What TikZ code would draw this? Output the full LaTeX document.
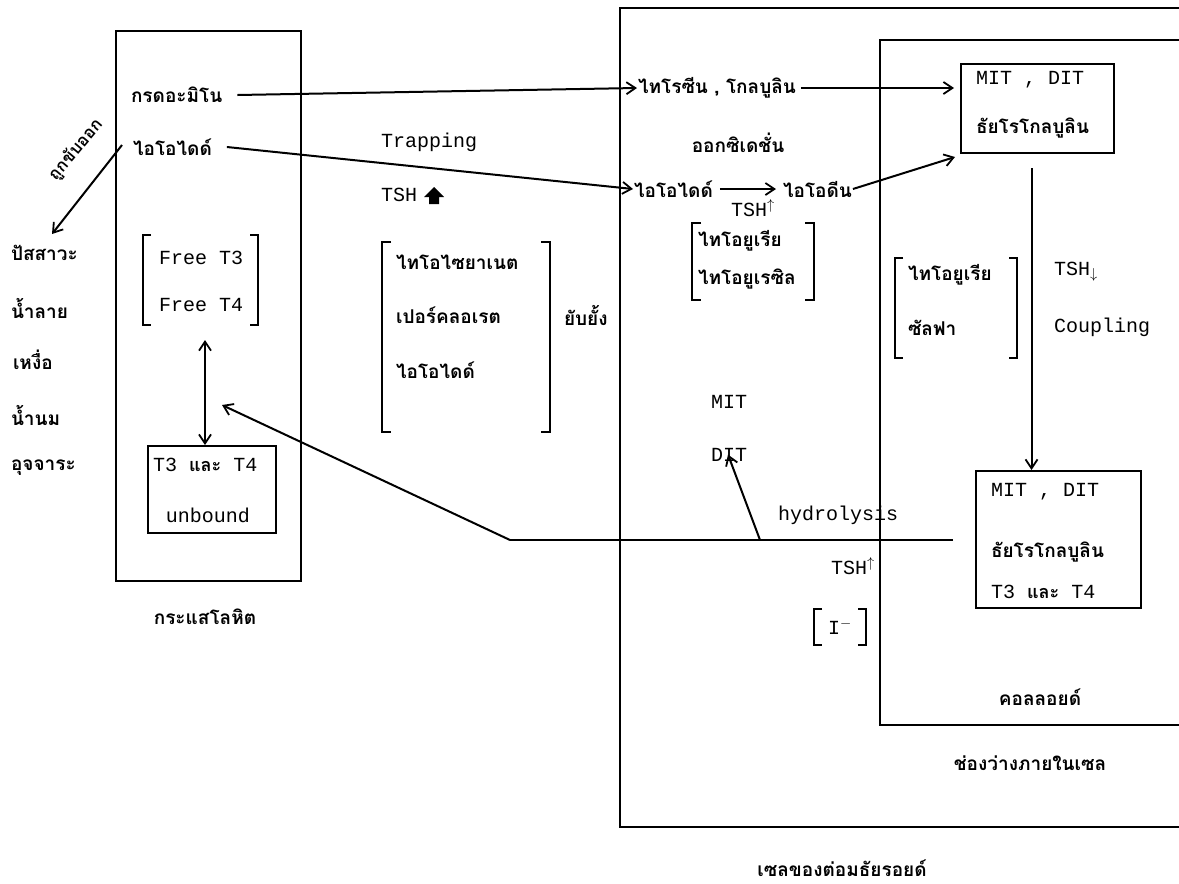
\documentclass[tikz,border=0pt]{standalone}
\usepackage{fontspec}
\setmonofont{Liberation Mono}
\newfontfamily\thai[Script=Thai]{Loma}
\usetikzlibrary{arrows.meta}
\begin{document}
\begin{tikzpicture}[x=1pt,y=-1pt,line width=2pt,
  th/.style={font=\thai\bfseries\fontsize{19}{21}\selectfont,inner sep=0pt},
  tt/.style={font=\ttfamily\fontsize{20}{22}\selectfont,inner sep=0pt},
  arr/.style={-{Straight Barb[length=9pt,width=12pt,line width=1.8pt]}},
  dbl/.style={{Straight Barb[length=9pt,width=12pt,line width=1.8pt]}-{Straight Barb[length=9pt,width=12pt,line width=1.8pt]}},
  region/.style={draw,line width=2pt,inner sep=0pt},
  bx/.style={draw,line width=2pt,inner sep=0pt}]
\useasboundingbox (0,0) rectangle (1179,884);

% ---------- blood stream ----------
\node[region,anchor=north west,minimum width=185,minimum height=550] (blood) at (115,30) {};
\node[th,anchor=west] (aa) at (130,95) {กรดอะมิโน};
\node[th,anchor=west] (iodA) at (132,147) {ไอโอไดด์};
\coordinate (exS) at (122,145);
\coordinate (exE) at (52,234);
\draw[arr] (exS) -- (exE);
\node[th,rotate=50,font=\thai\bfseries\fontsize{17}{19}\selectfont] (exc) at (76,150) {ถูกขับออก};
\node[th,anchor=west] (u1) at (10,253) {ปัสสาวะ};
\node[th,anchor=west] (u2) at (10,308) {น้ำลาย};
\node[th,anchor=west] (u3) at (12,360) {เหงื่อ};
\node[th,anchor=west] (u4) at (10,415) {น้ำนม};
\node[th,anchor=west] (u5) at (10,468) {อุจจาระ};

\node[tt,anchor=west] (ft3) at (158,258) {Free T3};
\node[tt,anchor=west] (ft4) at (158,305) {Free T4};
\draw (151,235) -- (143,235) -- (143,325) -- (151,325);
\draw (250,235) -- (258,235) -- (258,325) -- (250,325);
\node[bx,anchor=north west,minimum width=128,minimum height=87] (unb) at (147,445) {};
\node[tt,anchor=west] (t34a) at (152,465) {T3 {\thai\bfseries\fontsize{18}{20}\selectfont และ} T4};
\node[tt] (unbt) at (208,515) {unbound};
\draw[dbl] (205,340) -- (unb.north -| 205,0);
\node[th] (blt) at (205,617) {กระแสโลหิต};

% ---------- middle ----------
\node[tt,anchor=west] (trap) at (380,142) {Trapping};
\node[tt,anchor=west] (tsh1) at (380,195) {TSH};
\fill (tsh1.east) ++(6,2) -- ++(10,-10) -- ++(10,10) -- ++(-5,0) -- ++(0,7) -- ++(-10,0) -- ++(0,-7) -- cycle;
\node[th,anchor=west] (thc) at (395,262) {ไทโอไซยาเนต};
\node[th,anchor=west] (per) at (395,315) {เปอร์คลอเรต};
\node[th,anchor=west] (iodI) at (395,370) {ไอโอไดด์};
\draw (391,242) -- (382,242) -- (382,432) -- (391,432);
\draw (541,242) -- (550,242) -- (550,432) -- (541,432);
\node[th,anchor=west] (inh) at (563,315) {ยับยั้ง};

% ---------- follicle cell ----------
\draw (1179,8) -- (620,8) -- (620,827) -- (1179,827);
\node[th,anchor=west] (tyr) at (637,88) {ไทโรซีน , โกลบูลิน};
\node[th] (oxi) at (738,143) {ออกซิเดชั่น};
\node[th,anchor=west] (iodB) at (633,189) {ไอโอไดด์};
\node[th,anchor=west] (iodine) at (782,189) {ไอโอดีน};
\node[tt,anchor=west] (tsh2) at (730,208) {TSH$^{\uparrow}$};
\node[th,anchor=west] (tu1) at (697,241) {ไทโอยูเรีย};
\node[th,anchor=west] (tu2) at (697,279) {ไทโอยูเรซิล};
\draw (701,223) -- (692,223) -- (692,300) -- (701,300);
\draw (805,223) -- (814,223) -- (814,300) -- (805,300);
\node[tt,anchor=west] (mitc) at (710,402) {MIT};
\node[tt,anchor=west] (ditc) at (710,455) {DIT};
\node[tt,anchor=west] (hyd) at (777,515) {hydrolysis};
\node[tt,anchor=west] (tsh3) at (830,566) {TSH$^{\uparrow}$};
\node[tt] (iminus) at (840,627) {I$^{-}$};
\draw (822,609) -- (814,609) -- (814,645) -- (822,645);
\draw (858,609) -- (866,609) -- (866,645) -- (858,645);
\node[th] (cell) at (1030,763) {ช่องว่างภายในเซล};
\node[th] (fol) at (842,868) {เซลของต่อมธัยรอยด์};

% ---------- colloid ----------
\draw (1179,40) -- (880,40) -- (880,725) -- (1179,725);
\node[bx,anchor=north west,minimum width=153,minimum height=89] (mitA) at (960,63) {};
\node[tt,anchor=west] (mitAt) at (975,80) {MIT , DIT};
\node[th,anchor=west] (tgA) at (975,128) {ธัยโรโกลบูลิน};
\node[th,anchor=west] (tu3) at (907,275) {ไทโอยูเรีย};
\node[th,anchor=west] (sul) at (907,328) {ซัลฟา};
\draw (903,258) -- (895,258) -- (895,358) -- (903,358);
\draw (1009,258) -- (1017,258) -- (1017,358) -- (1009,358);
\node[tt,anchor=west] (tsh4) at (1053,272) {TSH$_{\downarrow}$};
\node[tt,anchor=west] (coup) at (1053,327) {Coupling};
\node[bx,anchor=north west,minimum width=165,minimum height=137] (mitB) at (975,470) {};
\node[tt,anchor=west] (mitBt) at (990,492) {MIT , DIT};
\node[th,anchor=west] (tgB) at (990,552) {ธัยโรโกลบูลิน};
\node[tt,anchor=west] (t34b) at (990,592) {T3 {\thai\bfseries\fontsize{18}{20}\selectfont และ} T4};
\node[th] (col) at (1040,697) {คอลลอยด์};

% ---------- connectors ----------
\draw[arr] ([xshift=14]aa.east) -- (tyr.west);
\draw[arr] ([xshift=4]tyr.east) -- ([xshift=-6]mitA.west |- tyr.east);
\draw[arr] ([xshift=14]iodA.east) -- (iodB.west);
\draw[arr] ([xshift=6]iodB.east) -- ([xshift=-6]iodine.west);
\draw[arr] (iodine.east) -- ([xshift=-5,yshift=-3]mitA.south west);
\draw[arr] ([xshift=-6,yshift=-14]mitA.south) -- ([xshift=-6]mitA.south |- mitB.north);
\coordinate (hj) at (510,540);
\coordinate (hk) at (760,540);
\draw ([xshift=-22]mitB.west |- hj) -- (hj);
\draw[arr] (hj) -- (222,405);
\draw[arr] (hk) -- ([xshift=18,yshift=8]ditc.south west);
\end{tikzpicture}
\end{document}
